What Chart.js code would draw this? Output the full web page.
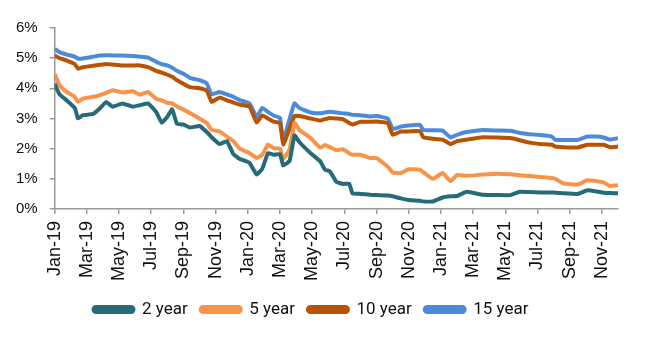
<!DOCTYPE html>
<html>
<head>
<meta charset="utf-8">
<script src="https://cdn.jsdelivr.net/npm/chart.js@4/dist/chart.umd.min.js"></script>
<style>
  html, body { margin: 0; padding: 0; background: #fff; }
  #wrap { width: 646px; height: 340px; }
</style>
</head>
<body>
<div id="wrap"><canvas id="yieldChart"></canvas></div>
<script>
// months since Jan 2019
const months = [
  0, 0.3, 0.75, 1.25, 1.45, 1.75, 2.4, 2.8, 3.2, 3.6, 4.2, 4.85, 5.3, 5.8, 6.3,
  6.65, 7.0, 7.3, 7.6, 8.0, 8.4, 9.0, 9.45, 9.75, 10.25, 10.7, 11.1, 11.5, 12.1, 12.55,
  12.9, 13.25, 13.6, 14.0, 14.2, 14.6, 14.9, 15.2, 15.9, 16.5, 16.8, 17.1, 17.5, 17.9, 18.3,
  18.5, 19.0, 19.6, 20.0, 20.7, 21.0, 21.5, 22.0, 22.7, 22.9, 23.5, 24.1, 24.6, 25.0, 25.6,
  26.6, 27.5, 28.3, 28.9, 29.5, 30.2, 30.9, 31.1, 31.6, 32.5, 33.1, 33.7, 34.1, 34.5, 35.0
];

const tickLabels = ['Jan-19', 'Mar-19', 'May-19', 'Jul-19', 'Sep-19', 'Nov-19',
  'Jan-20', 'Mar-20', 'May-20', 'Jul-20', 'Sep-20', 'Nov-20',
  'Jan-21', 'Mar-21', 'May-21', 'Jul-21', 'Sep-21', 'Nov-21'];

const y2 = [
  4.15, 3.8, 3.6, 3.35, 3.0, 3.11, 3.15, 3.33, 3.55, 3.39, 3.5, 3.39, 3.44, 3.5, 3.22,
  2.86, 3.06, 3.3, 2.82, 2.8, 2.7, 2.75, 2.55, 2.38, 2.15, 2.25, 1.82, 1.66, 1.53, 1.14,
  1.34, 1.85, 1.8, 1.82, 1.44, 1.6, 2.44, 2.22, 1.85, 1.58, 1.3, 1.25, 0.9, 0.83, 0.84,
  0.52, 0.5, 0.47, 0.46, 0.45, 0.42, 0.35, 0.3, 0.27, 0.25, 0.25, 0.38, 0.42, 0.43, 0.57,
  0.47, 0.46, 0.46, 0.57, 0.56, 0.55, 0.55, 0.54, 0.52, 0.5, 0.62, 0.58, 0.54, 0.53, 0.52
];
const y5 = [
  4.48, 4.1, 3.88, 3.72, 3.55, 3.66, 3.72, 3.77, 3.85, 3.94, 3.86, 3.9, 3.79, 3.88, 3.66,
  3.6, 3.52, 3.5, 3.4, 3.3, 3.18, 3.0, 2.85, 2.62, 2.57, 2.4, 2.25, 2.0, 1.85, 1.69,
  1.8, 2.13, 2.02, 2.0, 1.65, 1.98, 2.86, 2.62, 2.35, 2.03, 2.12, 2.05, 1.95, 1.98, 1.85,
  1.8, 1.8, 1.69, 1.69, 1.4, 1.21, 1.19, 1.32, 1.3, 1.22, 1.0, 1.19, 0.92, 1.13, 1.1,
  1.14, 1.17, 1.15, 1.12, 1.09, 1.06, 1.03, 1.0, 0.85, 0.81, 0.95, 0.92, 0.88, 0.76, 0.79
];
const y10 = [
  5.09, 5.0, 4.92, 4.8, 4.65, 4.7, 4.75, 4.78, 4.81, 4.79, 4.76, 4.76, 4.76, 4.7, 4.58,
  4.52, 4.45, 4.38, 4.27, 4.15, 4.04, 4.0, 3.92, 3.55, 3.7, 3.6, 3.53, 3.46, 3.4, 2.87,
  3.1, 3.0, 2.9, 2.85, 2.14, 2.67, 3.08, 3.08, 3.0, 2.93, 2.98, 3.02, 3.0, 2.98, 2.85,
  2.8, 2.89, 2.89, 2.9, 2.84, 2.46, 2.57, 2.57, 2.58, 2.38, 2.33, 2.3, 2.15, 2.25, 2.3,
  2.38, 2.37, 2.35, 2.28, 2.2, 2.15, 2.13, 2.07, 2.05, 2.04, 2.13, 2.13, 2.13, 2.05, 2.07
];
const y15 = [
  5.31, 5.2, 5.12, 5.05, 4.99, 4.99, 5.05, 5.09, 5.1, 5.09, 5.09, 5.07, 5.05, 5.02, 4.88,
  4.8, 4.76, 4.68, 4.58, 4.48, 4.35, 4.27, 4.16, 3.8, 3.88, 3.8, 3.72, 3.61, 3.5, 3.06,
  3.35, 3.22, 3.1, 3.02, 2.24, 3.0, 3.5, 3.35, 3.2, 3.17, 3.2, 3.22, 3.2, 3.17, 3.15,
  3.12, 3.11, 3.07, 3.08, 3.0, 2.65, 2.73, 2.77, 2.79, 2.62, 2.61, 2.6, 2.37, 2.46, 2.55,
  2.62, 2.6, 2.59, 2.52, 2.48, 2.45, 2.4, 2.29, 2.29, 2.29, 2.4, 2.4, 2.37, 2.3, 2.35
];

const seriesNames = ['2 year', '5 year', '10 year', '15 year'];
const seriesColors = ['#256b7a', '#f7944a', '#b75303', '#4d8bd8'];
const seriesValues = [y2, y5, y10, y15];

const toPoints = vals => vals.map((v, i) => ({ x: months[i], y: v }));

const axisFont = '"Liberation Sans", Arial, sans-serif';
Chart.defaults.font.family = 'Roboto, "Liberation Sans", Arial, sans-serif';
Chart.defaults.color = '#111';

new Chart(document.getElementById('yieldChart').getContext('2d'), {
  type: 'line',
  data: {
    datasets: seriesNames.map((name, i) => ({
      label: name,
      data: toPoints(seriesValues[i]),
      borderColor: seriesColors[i],
      backgroundColor: seriesColors[i],
      borderWidth: 4,
      pointRadius: 0,
      tension: 0.1,
      borderJoinStyle: 'round'
    }))
  },
  options: {
    responsive: true,
    maintainAspectRatio: false,
    animation: false,
    layout: { padding: { left: 4, right: 28, top: 28, bottom: 12 } },
    plugins: {
      legend: {
        position: 'bottom',
        labels: {
          boxWidth: 40,
          boxHeight: 5,
          useBorderRadius: true,
          borderRadius: 2.5,
          padding: 13,
          font: { size: 17 }
        }
      },
      tooltip: { enabled: false }
    },
    scales: {
      x: {
        type: 'linear',
        min: 0,
        max: 35,
        grid: { drawOnChartArea: false, drawTicks: true, tickLength: 5, color: '#9a9a9a', lineWidth: 1.5 },
        border: { color: '#9a9a9a', width: 1.5 },
        ticks: {
          stepSize: 2,
          includeBounds: false,
          autoSkip: false,
          minRotation: 90,
          maxRotation: 90,
          padding: 7,
          font: { size: 18, family: axisFont },
          callback: v => tickLabels[v / 2]
        }
      },
      y: {
        min: 0,
        max: 6,
        grid: { drawOnChartArea: false, drawTicks: true, tickLength: 5, color: '#9a9a9a', lineWidth: 1.5 },
        border: { color: '#9a9a9a', width: 1.5 },
        ticks: {
          stepSize: 1,
          padding: 12,
          font: { size: 15, family: axisFont },
          callback: v => v + '%'
        }
      }
    }
  }
});
</script>
</body>
</html>
